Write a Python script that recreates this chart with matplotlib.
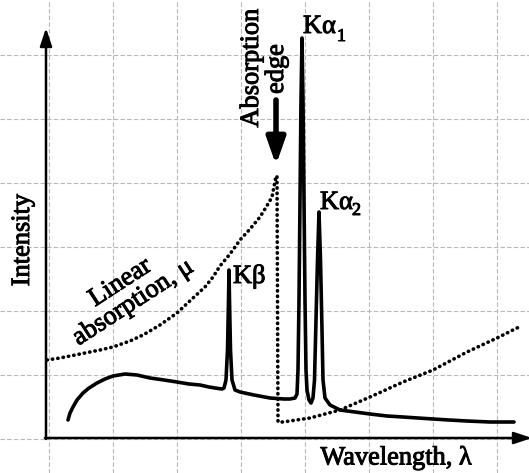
import numpy as np
import matplotlib
matplotlib.use('agg')
import matplotlib.pyplot as plt
import matplotlib.patheffects as pe

plt.rcParams['font.family'] = ['Liberation Serif', 'DejaVu Serif']

# continuous spectrum with characteristic lines (wavelength, intensity), arbitrary units
spec_wl = [19, 21, 24, 28, 34, 40, 48, 56, 64, 76, 88, 101, 115, 128, 140, 151, 160, 166,
           173, 175, 177, 178.5, 179.5, 180, 180.5, 181.5, 183, 186, 191, 205, 221, 235,
           241, 246, 248, 249, 250, 251, 252, 253, 254, 255, 256, 257, 258, 260, 262,
           264, 265.5, 267, 268.5, 270, 271.5, 273, 274, 276, 281,
           291, 306, 321, 338, 354, 369, 384, 400, 418, 441, 465]
spec_int = [19, 26, 32, 39, 46, 51, 56, 60, 63, 65, 64, 61, 59, 57, 55, 54, 52, 51,
            50, 51, 59, 89, 139, 169, 139, 89, 59, 49, 47, 44, 41, 40,
            40, 41, 45, 69, 139, 239, 339, 401, 339, 239, 139, 69, 49, 39, 36,
            41, 59, 119, 179, 227, 179, 109, 59, 41, 34,
            29, 27, 25, 23, 22, 21, 20, 19, 18, 17, 17]

# linear absorption coefficient, with the absorption edge
mu_wl = [-2, 11, 31, 51, 64, 81, 94, 111, 128, 144, 156, 164, 171, 181, 191,
         201, 211, 219, 223, 227, 228, 229, 234, 261, 291, 321, 354, 384, 418, 448, 470]
mu_int = [79, 81, 85, 89, 92, 98, 104, 114, 126, 141, 152, 162, 173, 185, 199,
          210, 222, 235, 242, 263, 263, 17, 17, 21, 29, 42, 57, 69, 87, 101, 112]

grid_x = np.arange(0, 449, 64)
grid_y = np.arange(0, 385, 64)

fig = plt.figure(figsize=(5.29, 4.73), dpi=100)
ax = fig.add_axes([0, 0, 1, 1])
ax.set_xlim(-49, 480)
ax.set_ylim(-34, 439)
ax.set_xticks(grid_x)
ax.set_yticks(grid_y)
ax.tick_params(length=0, labelbottom=False, labelleft=False)
for s in ax.spines.values():
    s.set_visible(False)
ax.grid(True, color='#b8b8b8', lw=0.8, ls=(0, (4, 2)))
ax.set_axisbelow(True)

# axes with arrows
ax.annotate('', xy=(-3, 411), xytext=(-3, 0), annotation_clip=False,
            arrowprops=dict(arrowstyle='-|>,head_length=0.9,head_width=0.3',
                            lw=1.8, color='k', mutation_scale=12, shrinkA=0, shrinkB=0))
ax.annotate('', xy=(483, 1), xytext=(-4, 1), annotation_clip=False,
            arrowprops=dict(arrowstyle='-|>,head_length=0.9,head_width=0.3',
                            lw=1.8, color='k', mutation_scale=12, shrinkA=0, shrinkB=0))

ax.plot(spec_wl, spec_int, color='k', lw=2.6, solid_joinstyle='round',
        solid_capstyle='round')
ax.plot(mu_wl, mu_int, color='k', lw=2.6, ls=(0, (0.1, 1.4)),
        dash_capstyle='round')

# absorption edge arrow
ax.annotate('', xy=(227, 274), xytext=(227, 339),
            arrowprops=dict(arrowstyle='-|>,head_length=1.0,head_width=0.35',
                            lw=4, color='k', mutation_scale=16, shrinkA=0, shrinkB=0))

fs = 19
bold = [pe.withStroke(linewidth=0.7, foreground='k')]
ax.text(-26, 199, 'Intensity', rotation=90, ha='center', va='center', fontsize=fs,
        path_effects=bold)
ax.text(347, -19, 'Wavelength, λ', ha='center', va='center', fontsize=fs,
        path_effects=bold)
ax.text(203, 371, 'Absorption', rotation=90, ha='center', va='center', fontsize=fs,
        path_effects=bold)
ax.text(228, 370, 'edge', rotation=90, ha='center', va='center', fontsize=fs,
        path_effects=bold)
ax.text(78, 146, 'Linear\nabsorption, μ', rotation=33, ha='center', va='center',
        rotation_mode='anchor', multialignment='center', linespacing=1.1, fontsize=fs,
        path_effects=bold)
ax.text(184, 156, 'Kβ', ha='left', va='baseline', fontsize=fs, path_effects=bold)
ax.text(254, 406, 'Kα', ha='left', va='baseline', fontsize=fs, path_effects=bold)
ax.text(288, 398, '1', ha='left', va='baseline', fontsize=13, path_effects=bold)
ax.text(271, 230, 'Kα', ha='left', va='baseline', fontsize=fs, path_effects=bold)
ax.text(303, 224, '2', ha='left', va='baseline', fontsize=13, path_effects=bold)

plt.savefig('out.png', dpi=100)
plt.close()
